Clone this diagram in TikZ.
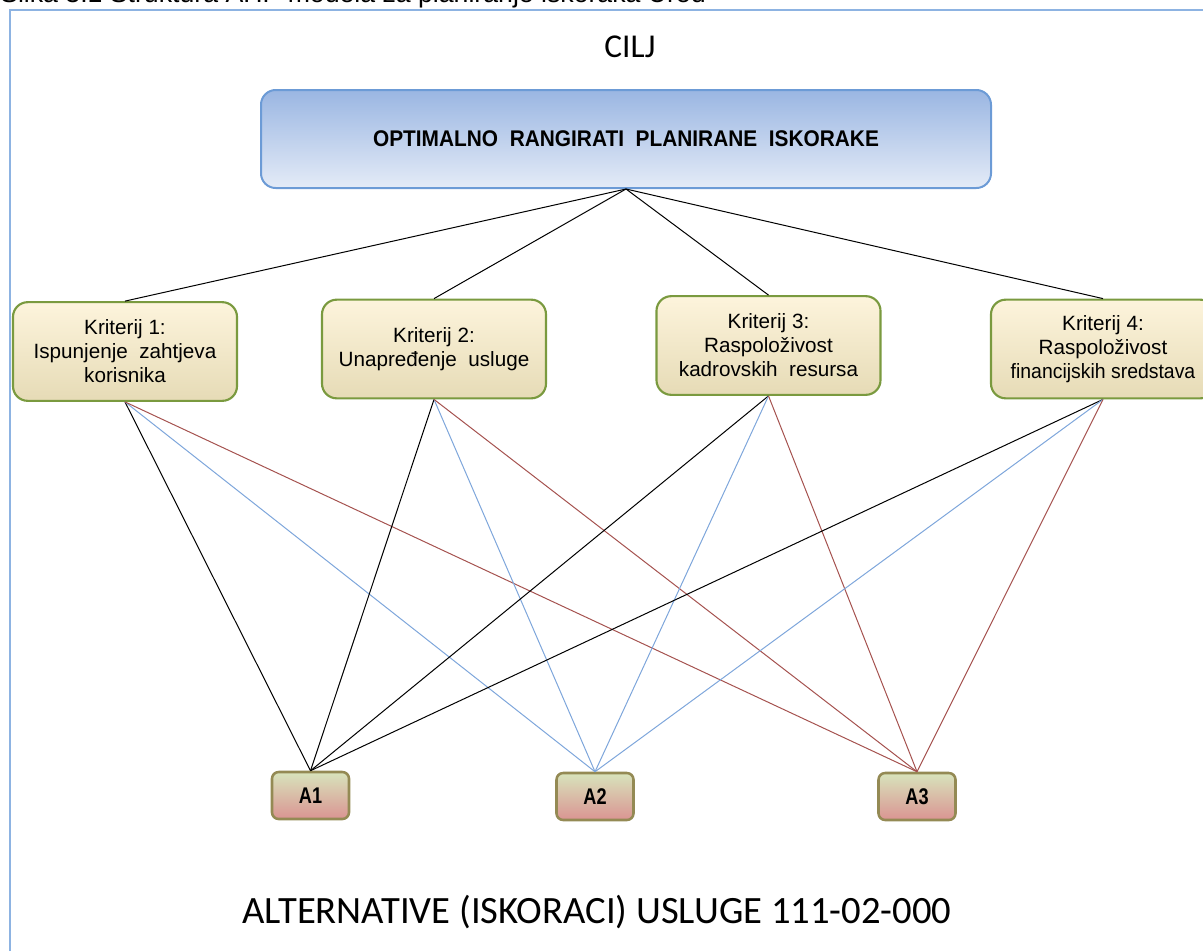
\documentclass[tikz,border=0pt]{standalone}
\usepackage{fontspec}
\usepackage{graphicx}
\setmainfont{Liberation Sans}
\newfontfamily\calibfont{Carlito}
\usetikzlibrary{positioning}

\definecolor{frameblue}{HTML}{8DB3E2}
\definecolor{goalline}{HTML}{6C9BD6}
\definecolor{goaltop}{HTML}{9AB6E2}
\definecolor{goalbot}{HTML}{E4EBF7}
\definecolor{kline}{HTML}{7A9A3F}
\definecolor{ktop}{HTML}{FDF4DC}
\definecolor{kbot}{HTML}{E6DBB6}
\definecolor{aline}{HTML}{948A54}
\definecolor{atop}{HTML}{D8E4BC}
\definecolor{abot}{HTML}{DA9492}
\definecolor{tieblue}{HTML}{7EA6DB}
\definecolor{tiered}{HTML}{A5524F}

\tikzset{
	goalbox/.style={draw=goalline, line width=1.5pt, rounded corners=11pt,
		top color=goaltop, bottom color=goalbot,
		minimum width=547.5pt, minimum height=73.5pt, inner sep=0pt},
	kbox/.style={draw=kline, line width=1.6pt, rounded corners=11pt,
		top color=ktop, bottom color=kbot,
		minimum width=168pt, minimum height=74pt, inner sep=0pt,
		align=center, font=\fontsize{15.5}{18}\selectfont},
	abox/.style={draw=aline, line width=1.9pt, rounded corners=5pt,
		top color=atop, bottom color=abot,
		minimum width=57.75pt, minimum height=35.25pt, inner sep=0pt,
		font=\bfseries\fontsize{17}{19}\selectfont},
	tie/.style={line width=0.75pt}
}

\begin{document}
\begin{tikzpicture}[x=0.75pt, y=-0.75pt]
	
	\useasboundingbox (0,0) rectangle (1203,951);
	\clip (0,0) rectangle (1203,951);
	
	% caption, cut off at the top
	\node[anchor=base west, inner sep=0pt, font=\fontsize{20}{22}\selectfont] (caption) at (0,2)
		{Slika 3.1 Struktura AHP modela za planiranje iskoraka Ured};
	\draw[frameblue, line width=1.2pt] (10,951) -- (10,10) -- (1210,10);
	
	\node[font=\calibfont\fontsize{25}{28}\selectfont] (cilj) at (630,47) {CILJ};
	\node[goalbox] (goal) at (626,139)
		{\scalebox{0.92}[1]{\bfseries\fontsize{17}{20}\selectfont OPTIMALNO\ \ RANGIRATI\ \ PLANIRANE\ \ ISKORAKE}};
	
	\node[kbox] (k1) at (125,351.5)  {Kriterij 1:\\Ispunjenje\ \ zahtjeva\\korisnika};
	\node[kbox] (k2) at (434,349)    {Kriterij 2:\\Unapre\dj enje\ \ usluge};
	\node[kbox] (k3) at (768.5,345.5) {Kriterij 3:\\Raspolo\v zivost\\kadrovskih\ \ resursa};
	\node[kbox] (k4) at (1103,349)   {Kriterij 4:\\Raspolo\v zivost\\\scalebox{0.94}[1]{financijskih sredstava}};
	
	\node[abox] (a1) at (310.5,795.5) {\scalebox{0.8}[1]{A1}};
	\node[abox] (a2) at (595,796.5)   {\scalebox{0.8}[1]{A2}};
	\node[abox] (a3) at (917,796.5)   {\scalebox{0.8}[1]{A3}};
	
	\node[font=\calibfont\fontsize{29}{32}\selectfont] (alt) at (597,912)
		{ALTERNATIVE (ISKORACI) USLUGE 111-02-000};
	
	\path[tie] (goal.south) edge (k1.north);
	\path[tie] (goal.south) edge (k2.north);
	\path[tie] (goal.south) edge (k3.north);
	\path[tie] (goal.south) edge (k4.north);
	
	\path[tie] (k1.south) edge (a1.north);
	\path[tie, tieblue] (k1.south) edge (a2.north);
	\path[tie, tiered] (k1.south) edge (a3.north);
	\path[tie] (k2.south) edge (a1.north);
	\path[tie, tieblue] (k2.south) edge (a2.north);
	\path[tie, tiered] (k2.south) edge (a3.north);
	\path[tie] (k3.south) edge (a1.north);
	\path[tie, tieblue] (k3.south) edge (a2.north);
	\path[tie, tiered] (k3.south) edge (a3.north);
	\path[tie] (k4.south) edge (a1.north);
	\path[tie, tieblue] (k4.south) edge (a2.north);
	\path[tie, tiered] (k4.south) edge (a3.north);
	
\end{tikzpicture}
\end{document}
